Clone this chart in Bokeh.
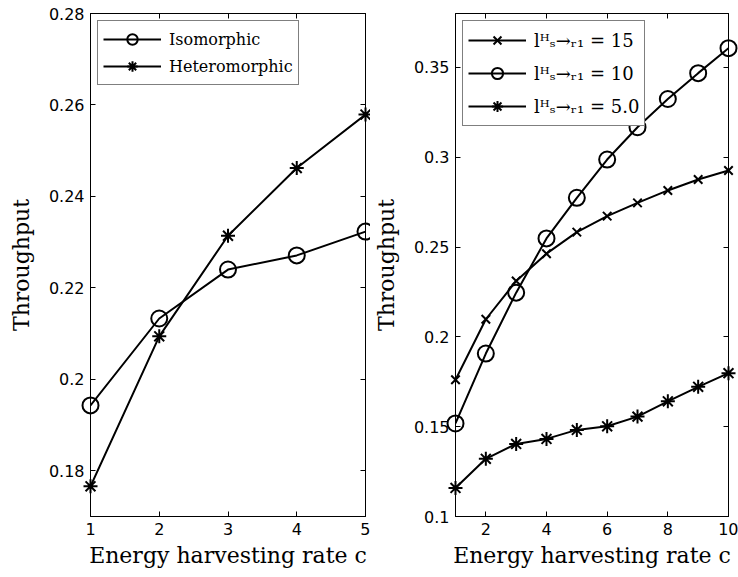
from bokeh.plotting import figure
from bokeh.layouts import row
from bokeh.models import (Range1d, LinearAxis, FixedTicker, CustomJSTickFormatter,
                          Legend, LegendItem)
from bokeh.embed import file_html
from bokeh.resources import INLINE

# ---------------- data ----------------
rate_left = [1, 2, 3, 4, 5]
isomorphic = [0.1943, 0.2133, 0.2240, 0.2271, 0.2323]
heteromorphic = [0.1766, 0.2094, 0.2314, 0.2462, 0.2579]

rate_right = [1, 2, 3, 4, 5, 6, 7, 8, 9, 10]
l15 = [0.1761, 0.2098, 0.2311, 0.2463, 0.2583, 0.2672, 0.2746, 0.2815, 0.2876, 0.2926]
l10 = [0.1518, 0.1907, 0.2246, 0.2548, 0.2774, 0.2987, 0.3167, 0.3324, 0.3468, 0.3607]
l5 = [0.1159, 0.1321, 0.1404, 0.1432, 0.1482, 0.1502, 0.1556, 0.1641, 0.1722, 0.1798]

left_xticks = [1, 2, 3, 4, 5]
left_yticks = [0.18, 0.2, 0.22, 0.24, 0.26, 0.28]
right_xticks = [2, 4, 6, 8, 10]
right_yticks = [0.1, 0.15, 0.2, 0.25, 0.3, 0.35]

left_labels = ["Isomorphic", "Heteromorphic"]
right_labels = ["l\u1d34\u209b\u2192\u1d63\u2081 = 15",
                "l\u1d34\u209b\u2192\u1d63\u2081 = 10",
                "l\u1d34\u209b\u2192\u1d63\u2081 = 5.0"]

XLABEL = "Energy harvesting rate c"
YLABEL = "Throughput"

TICK_FONT = "DejaVu Sans"
LABEL_FONT = "DejaVu Serif"

fmt = CustomJSTickFormatter(code="return String(Math.round(tick*1000)/1000);")
blank_fmt = CustomJSTickFormatter(code="return '';")


def style_axis(ax, ticks, show_labels):
    ax.ticker = FixedTicker(ticks=ticks)
    ax.major_tick_in = 5
    ax.major_tick_out = 0
    ax.minor_tick_line_color = None
    ax.axis_line_color = "black"
    ax.major_tick_line_color = "black"
    ax.major_label_text_color = "black"
    ax.major_label_text_font = TICK_FONT
    if show_labels:
        ax.formatter = fmt
        ax.major_label_text_font_size = "16px"
        ax.major_label_standoff = 6
        ax.axis_label_text_font = LABEL_FONT
        ax.axis_label_text_font_size = "22px"
        ax.axis_label_text_font_style = "normal"
        ax.axis_label_text_color = "black"
    else:
        ax.formatter = blank_fmt
        ax.major_label_text_font_size = "1px"
        ax.major_label_standoff = 0


def make_fig(width, xr, yr, xticks, yticks, border_left, border_right):
    p = figure(width=width, height=577, output_backend="svg", toolbar_location=None,
               x_range=Range1d(*xr), y_range=Range1d(*yr),
               x_axis_label=XLABEL, y_axis_label=YLABEL,
               min_border_left=border_left, min_border_right=border_right,
               min_border_top=13, min_border_bottom=61)
    p.xgrid.visible = False
    p.ygrid.visible = False
    p.outline_line_color = "black"
    p.outline_line_width = 1
    p.background_fill_color = "white"
    p.border_fill_color = "white"
    style_axis(p.xaxis[0], xticks, True)
    style_axis(p.yaxis[0], yticks, True)
    p.xaxis[0].axis_label_standoff = 5
    p.yaxis[0].axis_label_standoff = 12
    top = LinearAxis()
    style_axis(top, xticks, False)
    p.add_layout(top, "above")
    right = LinearAxis()
    style_axis(right, yticks, False)
    p.add_layout(right, "right")
    return p


def series(p, x, y, marker, size):
    ln = p.line(x, y, line_color="black", line_width=2)
    mk = p.scatter(x, y, marker=marker, size=size, line_color="black", line_width=2,
                   fill_color=None, level="overlay")
    return [ln, mk]


def make_legend(p, items, gh, spacing, font_size):
    leg = Legend(items=items, location="top_left", margin=7, padding=5,
                 spacing=spacing, glyph_width=58, glyph_height=gh, label_height=gh,
                 label_standoff=8, label_text_font=LABEL_FONT, label_text_font_size=font_size,
                 label_text_color="black", border_line_color="black", border_line_width=1,
                 background_fill_color="white", background_fill_alpha=1.0)
    p.add_layout(leg)


# ---------------- left panel ----------------
p1 = make_fig(370, (1, 5), (0.17, 0.28), left_xticks, left_yticks, 90, 5)
r_iso = series(p1, rate_left, isomorphic, "circle", 16)
r_het = series(p1, rate_left, heteromorphic, "asterisk", 14)
make_legend(p1, [LegendItem(label=left_labels[0], renderers=r_iso),
                 LegendItem(label=left_labels[1], renderers=r_het)], 26, 1, "16px")

# ---------------- right panel ----------------
p2 = make_fig(368, (1, 10), (0.1, 0.38), right_xticks, right_yticks, 82, 10)
r15 = series(p2, rate_right, l15, "x", 12)
r10 = series(p2, rate_right, l10, "circle", 16)
r5 = series(p2, rate_right, l5, "asterisk", 14)
make_legend(p2, [LegendItem(label=right_labels[0], renderers=r15),
                 LegendItem(label=right_labels[1], renderers=r10),
                 LegendItem(label=right_labels[2], renderers=r5)], 28, 5, "18px")

layout = row(p1, p2)
open("out.html", "w").write(file_html(layout, INLINE))
